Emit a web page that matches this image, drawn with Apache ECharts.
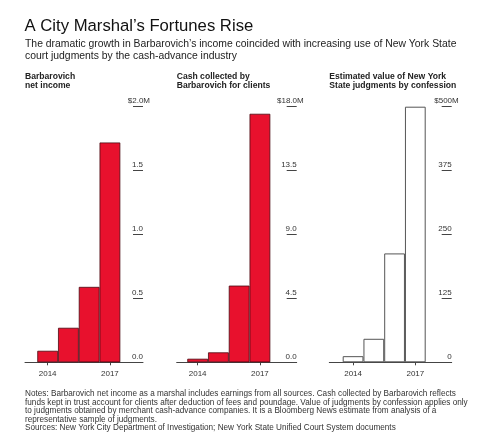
<!DOCTYPE html>
<html>
<head>
<meta charset="utf-8">
<script src="https://cdn.jsdelivr.net/npm/echarts@6/dist/echarts.min.js"></script>
<style>
html, body { margin: 0; padding: 0; background: #fff; }
#chart { width: 500px; height: 442px; }
</style>
</head>
<body>
<div id="chart"></div>
<script>
// data
var years = ['2014', '2015', '2016', '2017'];
var netIncome = [0.09, 0.27, 0.59, 1.72];      // $M
var cashCollected = [0.25, 0.7, 5.4, 17.5];    // $M
var judgments = [12, 46, 213, 500];            // $M

var incomeTicks = { max: 2, interval: 0.5, digits: 1 };
var cashTicks = { max: 18, interval: 4.5, digits: 1 };
var judgTicks = { max: 500, interval: 125, digits: 0 };

var panelTitles = [
  'Barbarovich\nnet income',
  'Cash collected by\nBarbarovich for clients',
  'Estimated value of New York\nState judgments by confession'
];

var myChart = echarts.init(document.getElementById('chart'));

var FONT = '"Liberation Sans", Arial, sans-serif';
var gridTop = 106.7;
var gridBottom = 79.7;

// panel geometry: left edge of the baseline, baseline width, left edge of bars
var panels = [
  { left: 25, width: 118, barLeft: 37.3 },
  { left: 176.7, width: 120, barLeft: 187.3 },
  { left: 329.3, width: 122.4, barLeft: 342.7 }
];
var barWidthTotal = 83;

var seriesData = [netIncome, cashCollected, judgments];
var tickSets = [incomeTicks, cashTicks, judgTicks];

var grids = [], xAxes = [], yAxes = [], series = [];

function showYear(i) { return i === 0 || i === 3; }

panels.forEach(function (p, k) {
  var t = tickSets[k];
  // frame grid: baseline + right value labels
  grids.push({ left: p.left, width: p.width, top: gridTop, bottom: gridBottom, containLabel: false });
  // bar grid
  grids.push({ left: p.barLeft, width: barWidthTotal, top: gridTop, bottom: gridBottom, containLabel: false });
  var g0 = k * 2, g1 = k * 2 + 1;

  xAxes.push({
    gridIndex: g0, type: 'value', min: 0, max: 1,
    axisLine: { show: true, onZero: false, lineStyle: { color: '#444', width: 1 } },
    axisTick: { show: false }, axisLabel: { show: false }, splitLine: { show: false }
  });
  xAxes.push({
    gridIndex: g1, type: 'category', data: years,
    axisLine: { show: false },
    axisTick: { show: true, alignWithLabel: true, interval: function (i) { return showYear(i); }, length: 3, lineStyle: { color: '#444' } },
    axisLabel: {
      interval: function (i) { return showYear(i); },
      color: '#333', fontFamily: FONT, fontSize: 8, margin: 7
    }
  });

  yAxes.push({
    gridIndex: g0, type: 'value', position: 'right',
    min: 0, max: t.max, interval: t.interval,
    axisLine: { show: false, onZero: false },
    axisTick: { show: true, inside: true, length: 10, lineStyle: { color: '#444', width: 1 } },
    splitLine: { show: false },
    axisLabel: {
      inside: false, margin: 7, align: 'right', verticalAlign: 'bottom',
      formatter: function (v) {
        var txt = v.toFixed(t.digits);
        if (v === t.max) return '{n|$' + txt + '}{m|M}';
        return '{n|' + txt + '}{sp| }';
      },
      rich: {
        n: { fontFamily: FONT, fontSize: 8, color: '#333', padding: [0, 0, 2, 0] },
        m: { fontFamily: FONT, fontSize: 8, color: '#333', padding: [0, 0, 2, 0] },
        sp: { fontFamily: FONT, fontSize: 8, width: 7 }
      }
    }
  });
  yAxes.push({
    gridIndex: g1, type: 'value', show: false, min: 0, max: t.max
  });

  var hollow = k === 2;
  series.push({
    type: 'bar', xAxisIndex: g1, yAxisIndex: g1,
    data: seriesData[k],
    barCategoryGap: '0%', barGap: '0%',
    itemStyle: hollow
      ? { color: '#fff', borderColor: '#555', borderWidth: 1 }
      : { color: '#e8112d', borderColor: '#4a0a12', borderWidth: 0.8 },
    emphasis: { disabled: true },
    animation: false
  });
});

var titles = [
  { text: 'A City Marshal\u2019s Fortunes Rise', left: 24.5, top: 18, padding: 0,
    textStyle: { fontFamily: FONT, fontSize: 16.7, fontWeight: 'normal', color: '#111' } },
  { text: 'The dramatic growth in Barbarovich\u2019s income coincided with increasing use of New York State\ncourt judgments by the cash-advance industry',
    left: 25, top: 38, padding: 0,
    textStyle: { fontFamily: FONT, fontSize: 10.4, fontWeight: 'normal', color: '#222', lineHeight: 12.4 } },
  { text: 'Notes: Barbarovich net income as a marshal includes earnings from all sources. Cash collected by Barbarovich reflects\n' +
      'funds kept in trust account for clients after deduction of fees and poundage. Value of judgments by confession applies only\n' +
      'to judgments obtained by merchant cash-advance companies. It is a Bloomberg News estimate from analysis of a\n' +
      'representative sample of judgments.\n' +
      'Sources: New York City Department of Investigation; New York State Unified Court System documents',
    left: 25, top: 389.5, padding: 0,
    textStyle: { fontFamily: FONT, fontSize: 8.2, fontWeight: 'normal', color: '#333', lineHeight: 8.6 } }
];
panels.forEach(function (p, k) {
  titles.push({
    text: panelTitles[k], left: p.left, top: 71.5, padding: 0,
    textStyle: { fontFamily: FONT, fontSize: 8.6, fontWeight: 'bold', color: '#222', lineHeight: 9.4 }
  });
});

option = {
  backgroundColor: '#fff',
  animation: false,
  title: titles,
  grid: grids,
  xAxis: xAxes,
  yAxis: yAxes,
  series: series
};

myChart.setOption(option);
</script>
</body>
</html>
